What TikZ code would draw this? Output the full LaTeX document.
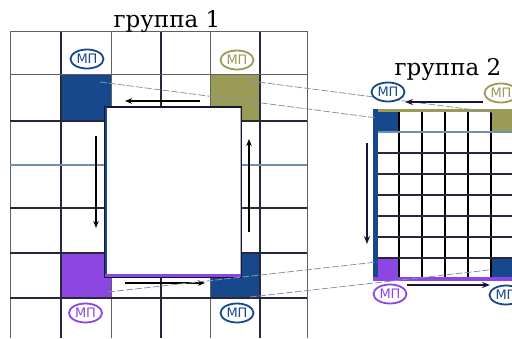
\documentclass[tikz,border=0pt]{standalone}
\usepackage{fontspec}
\newfontfamily\titlefont{DejaVu Serif}
\newfontfamily\mpfont{DejaVu Sans}
\usetikzlibrary{arrows.meta,shapes.geometric}

\definecolor{mpblue}{RGB}{24,72,140}
\definecolor{mpolive}{RGB}{155,155,88}
\definecolor{mppurple}{RGB}{140,70,225}
\definecolor{gridc}{RGB}{40,40,58}
\definecolor{gridg}{RGB}{95,95,100}
\definecolor{steel}{RGB}{112,144,176}
\definecolor{linkc}{RGB}{135,148,172}
\definecolor{navy}{RGB}{22,22,58}

\tikzset{
  cellL/.style={draw=none, inner sep=0pt, minimum width=50pt, minimum height=46pt},
  cellR/.style={draw=none, inner sep=0pt, minimum width=23pt, minimum height=21pt},
  mp/.style={ellipse, draw=#1, text=#1, fill=white, line width=1.8pt,
    inner sep=0pt, minimum width=33pt, minimum height=19pt,
    font=\mpfont\fontsize{13}{13}\selectfont},
  title/.style={font=\titlefont\fontsize{23}{23}\selectfont, anchor=base},
  arr/.style={-{Stealth[length=7pt,width=5.5pt]}, line width=1.4pt, black},
  arrR/.style={-{Stealth[length=8pt,width=6pt]}, line width=2.2pt, navy},
  link/.style={line width=0.8pt, linkc, dash pattern=on 7pt off 2pt},
  gline/.style={line width=1.2pt, gridc},
  glineg/.style={line width=1pt, gridg},
}

\begin{document}
\begin{tikzpicture}[x=1pt,y=-1pt]
\useasboundingbox (0,0) rectangle (512,338);
\clip (0,0) rectangle (512,338);

% ---- group 1: coloured corner cells
\node[cellL, fill=mpblue]   (a1) at (86,97.5) {};
\node[cellL, fill=mpolive]  (a2) at (235,97.5) {};
\node[cellL, fill=mppurple] (a3) at (86,275.5) {};
\node[cellL, fill=mpblue]   (a4) at (235,275.5) {};

% ---- group 1: grid
\foreach \x in {61,161,260} \draw[gline] (\x,31) -- (\x,338);
\foreach \x in {10,111,210,307} \draw[glineg] (\x,31) -- (\x,338);
\foreach \y in {31,74} \draw[glineg] (10,\y) -- (307,\y);
\foreach \y in {121,208,253,298} \draw[gline] (10,\y) -- (307,\y);
\draw[line width=2pt, steel] (10,165) -- (307,165);

% ---- group 1: central block
\node[draw=navy, fill=white, line width=2pt, inner sep=0pt,
      minimum width=136pt, minimum height=170pt] (blk) at (173,192) {};
\draw[line width=2.5pt, mpblue] ([xshift=2.2pt,yshift=-1pt]blk.north west) -- ([xshift=2.2pt,yshift=1pt]blk.south west);
\draw[line width=3.5pt, mppurple] ([xshift=1pt,yshift=2.5pt]blk.south west) -- ([xshift=-1pt,yshift=2.5pt]blk.south east);
\draw[line width=1pt, gray!60] ([xshift=-2pt,yshift=-1.5pt]blk.north east) -- ([xshift=-2pt,yshift=4pt]blk.south east);

% ---- group 1: arrows
\coordinate (t1s) at (200,101); \coordinate (t1e) at (125,101);
\coordinate (l1s) at (96,136);  \coordinate (l1e) at (96,228);
\coordinate (r1s) at (249,232); \coordinate (r1e) at (249,139);
\coordinate (b1s) at (125,283); \coordinate (b1e) at (205,283);
\draw[arr] (t1s) -- (t1e);
\draw[arr] (l1s) -- (l1e);
\draw[arr] (r1s) -- (r1e);
\draw[arr] (b1s) -- (b1e);

% ---- group 2: grid 6 x 8
\fill[white] (373,109) rectangle (514,281);
\node[cellR, fill=mpblue]   (c1) at (387.5,121.5) {};
\node[cellR, fill=mpolive]  (c2) at (502.5,121.5) {};
\node[cellR, fill=mppurple] (c3) at (387.5,268.5) {};
\node[cellR, fill=mpblue]   (c4) at (502.5,268.5) {};
\foreach \x in {399,422,445,468,491} \draw[line width=1.5pt, black] (\x,111) -- (\x,278);
\foreach \y in {153,174,195,216,237,258} \draw[line width=1.2pt, gridc] (376,\y) -- (514,\y);
\draw[line width=1.2pt, steel] (376,132) -- (514,132);
\draw[line width=3pt, mpolive] (373,110.5) -- (514,110.5);
\draw[line width=5pt, mpblue] (375.5,109) -- (375.5,281);
\draw[line width=4pt, mppurple] (373,279) -- (514,279);

% ---- links between the two groups
\coordinate (k1s) at (100,82);  \coordinate (k1e) at (377,118);
\coordinate (k2s) at (250,81);  \coordinate (k2e) at (498,113);
\coordinate (k3s) at (108,292); \coordinate (k3e) at (377,262);
\coordinate (k4s) at (250,297); \coordinate (k4e) at (489,270);
\draw[link] (k1s) -- (k1e);
\draw[link] (k2s) -- (k2e);
\draw[link] (k3s) -- (k3e);
\draw[link] (k4s) -- (k4e);

% ---- group 2: arrows
\coordinate (t2s) at (483,102); \coordinate (t2e) at (405,102);
\coordinate (l2s) at (367,143); \coordinate (l2e) at (367,244);
\coordinate (b2s) at (407,285); \coordinate (b2e) at (490,285);
\draw[arrR] (t2s) -- (t2e);
\draw[arrR] (l2s) -- (l2e);
\draw[arrR] (b2s) -- (b2e);

% ---- MP marks
\node[mp=mpblue]   (m1) at (87,59)   {МП};
\node[mp=mpolive]  (m2) at (237,60)  {МП};
\node[mp=mppurple] (m3) at (85.5,313) {МП};
\node[mp=mpblue]   (m4) at (237,313) {МП};
\node[mp=mpblue]   (n1) at (388,92)  {МП};
\node[mp=mpolive]  (n2) at (501,93)  {МП};
\node[mp=mppurple] (n3) at (390,294) {МП};
\node[mp=mpblue]   (n4) at (506,295) {МП};

% ---- titles
\node[title] (g1) at (167,27) {группа 1};
\node[title] (g2) at (448,75) {группа 2};
\end{tikzpicture}
\end{document}
